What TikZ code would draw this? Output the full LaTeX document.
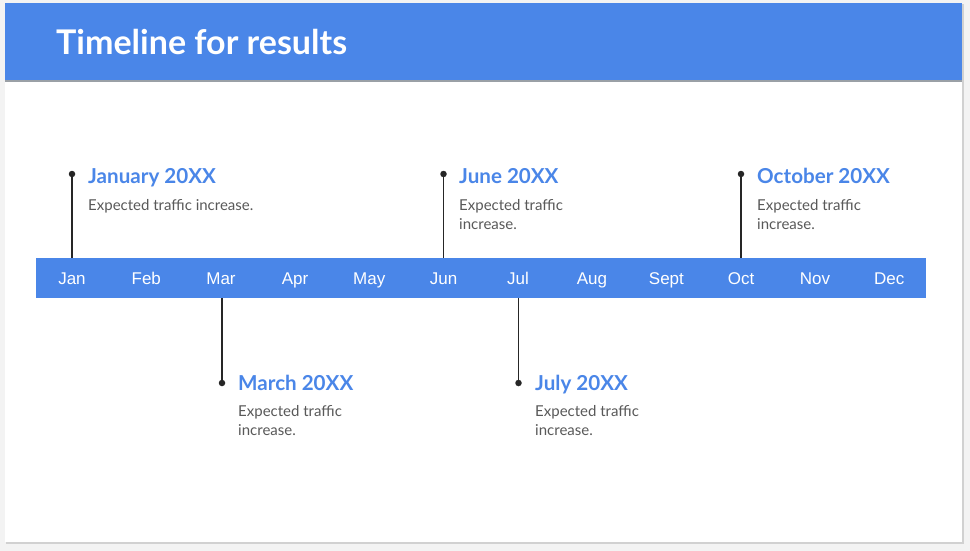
\documentclass[tikz,border=0pt]{standalone}
\usepackage{fontspec}
\setmainfont{Lato}
\newfontfamily\armonth{Liberation Sans}
\definecolor{gblue}{HTML}{4A86E8}
\definecolor{bgray}{HTML}{F3F3F3}
\definecolor{txtgray}{HTML}{595959}
\definecolor{linegray}{HTML}{9AA0A6}
\begin{document}
\begin{tikzpicture}[x=1pt,y=-1pt,
  month/.style={font=\armonth\fontsize{17}{20}\selectfont,text=white,anchor=base,inner sep=0pt},
  head/.style={font=\bfseries\fontsize{20.6}{24}\selectfont,text=gblue,anchor=base west,inner sep=0pt},
  desc/.style={font=\fontsize{15}{19}\selectfont,text=txtgray,anchor=north west,inner sep=0pt,align=left},
  stem/.style={draw=black!85,line width=1.1pt},
  dot/.style={circle,fill=black!85,inner sep=0pt,minimum size=6.5pt}]
\useasboundingbox (0,0) rectangle (970,551);
\fill[bgray] (0,0) rectangle (970,551);
\fill[black!18] (6,4) rectangle (964,544);
\fill[white] (5,3) rectangle (962,542);
\fill[gblue] (5,3) rectangle (962,80);
\fill[linegray] (5,80) rectangle (962,82);
\node[font=\bfseries\fontsize{34}{38}\selectfont,text=white,anchor=west,inner sep=0pt] (title) at (56,42) {Timeline for results};
\node[fill=gblue,minimum width=890pt,minimum height=40pt,inner sep=0pt,anchor=north west] (bar) at (36,258) {};
\foreach \m/\x [count=\i] in {Jan/72,Feb/146.3,Mar/221,Apr/295,May/369.2,Jun/443.5,Jul/518,Aug/592,Sept/666.4,Oct/741,Nov/815,Dec/889.3}{
  \node[month] (m\i) at (\x,284.5) {\m};
}
% upper markers
\node[dot] (d1) at (72,174) {};
\node[dot] (d6) at (443.5,174) {};
\node[dot] (d10) at (741,174) {};
\draw[stem] (d1.center) -- (d1.center |- bar.north);
\draw[stem] (d6.center) -- (d6.center |- bar.north);
\draw[stem] (d10.center) -- (d10.center |- bar.north);
% lower markers
\node[dot] (d3) at (222,383) {};
\node[dot] (d7) at (518.5,383) {};
\draw[stem] (d3.center) -- (d3.center |- bar.south);
\draw[stem] (d7.center) -- (d7.center |- bar.south);
% labels
\node[head] (h1) at (88,183.5) {January 20XX};
\node[desc] (t1) at (88,199) {Expected traffic increase.};
\node[head] (h6) at (459,183.5) {June 20XX};
\node[desc] (t6) at (459,199) {Expected traffic\\increase.};
\node[head] (h10) at (757,183.5) {October 20XX};
\node[desc] (t10) at (757,199) {Expected traffic\\increase.};
\node[head] (h3) at (238,390.5) {March 20XX};
\node[desc] (t3) at (238,405) {Expected traffic\\increase.};
\node[head] (h7) at (535,390.5) {July 20XX};
\node[desc] (t7) at (535,405) {Expected traffic\\increase.};
\end{tikzpicture}
\end{document}
